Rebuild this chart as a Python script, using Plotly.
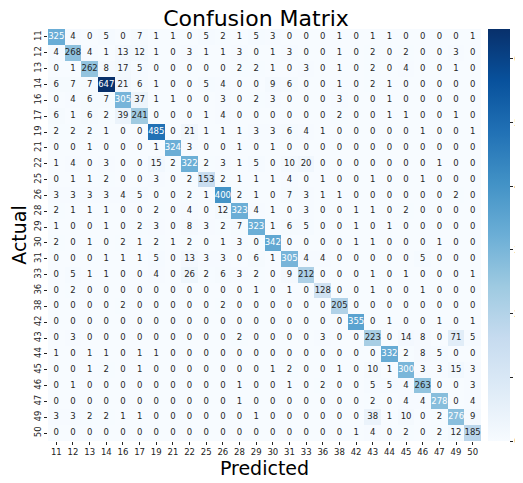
import plotly.graph_objects as go

labels = ["11", "12", "13", "14", "16", "17", "19", "21", "22", "25", "26", "28", "29",
          "30", "31", "33", "36", "38", "42", "43", "44", "45", "46", "47", "49", "50"]

row_11 = [325, 4, 0, 5, 0, 7, 1, 1, 0, 5, 2, 1, 5, 3, 0, 0, 0, 1, 0, 1, 1, 0, 0, 0, 0, 1]
row_12 = [4, 268, 4, 1, 13, 12, 1, 0, 3, 1, 1, 3, 0, 1, 3, 0, 0, 1, 0, 2, 0, 2, 0, 0, 3, 0]
row_13 = [0, 1, 262, 8, 17, 5, 0, 0, 0, 0, 0, 2, 2, 1, 0, 3, 0, 1, 0, 2, 0, 4, 0, 0, 1, 0]
row_14 = [6, 7, 7, 647, 21, 6, 1, 0, 0, 5, 4, 0, 0, 9, 6, 0, 0, 1, 0, 2, 1, 0, 0, 0, 0, 0]
row_16 = [0, 4, 6, 7, 305, 37, 1, 1, 0, 0, 3, 0, 2, 3, 0, 0, 0, 3, 0, 0, 1, 0, 0, 0, 0, 0]
row_17 = [6, 1, 6, 2, 39, 241, 0, 0, 0, 1, 4, 0, 0, 0, 0, 0, 0, 2, 0, 0, 1, 1, 0, 0, 1, 0]
row_19 = [2, 2, 2, 1, 0, 0, 485, 0, 21, 1, 1, 1, 3, 3, 6, 4, 1, 0, 0, 0, 0, 0, 1, 0, 0, 1]
row_21 = [0, 0, 1, 0, 0, 0, 1, 324, 3, 0, 0, 1, 0, 1, 0, 0, 0, 0, 0, 0, 0, 0, 0, 0, 0, 0]
row_22 = [1, 4, 0, 3, 0, 0, 15, 2, 322, 2, 3, 1, 5, 0, 10, 20, 0, 0, 0, 0, 0, 0, 0, 1, 0, 0]
row_25 = [0, 1, 1, 2, 0, 0, 3, 0, 2, 153, 2, 1, 1, 1, 4, 0, 1, 0, 0, 1, 0, 0, 1, 0, 0, 0]
row_26 = [3, 3, 3, 3, 4, 5, 0, 0, 2, 1, 400, 2, 1, 0, 7, 3, 1, 1, 0, 0, 0, 0, 0, 0, 2, 0]
row_28 = [2, 1, 1, 1, 0, 0, 2, 0, 4, 0, 12, 323, 4, 1, 0, 3, 0, 0, 1, 1, 0, 2, 0, 0, 0, 0]
row_29 = [1, 0, 0, 1, 0, 2, 3, 0, 8, 3, 2, 7, 323, 1, 6, 5, 0, 0, 1, 0, 1, 0, 0, 0, 0, 0]
row_30 = [2, 0, 1, 0, 2, 1, 2, 1, 2, 0, 1, 3, 0, 342, 0, 0, 0, 0, 1, 1, 0, 0, 0, 1, 0, 0]
row_31 = [0, 0, 0, 1, 1, 1, 5, 0, 13, 3, 3, 0, 6, 1, 305, 4, 4, 0, 0, 0, 0, 0, 5, 0, 0, 0]
row_33 = [0, 5, 1, 1, 0, 0, 4, 0, 26, 2, 6, 3, 2, 0, 9, 212, 0, 0, 0, 1, 0, 1, 0, 0, 0, 1]
row_36 = [0, 2, 0, 0, 0, 0, 0, 0, 0, 0, 0, 0, 1, 0, 1, 0, 128, 0, 0, 1, 0, 0, 1, 0, 0, 0]
row_38 = [0, 0, 0, 0, 2, 0, 0, 0, 0, 0, 2, 0, 0, 0, 0, 0, 0, 205, 0, 0, 0, 0, 0, 0, 0, 0]
row_42 = [0, 0, 0, 0, 0, 0, 0, 0, 0, 0, 0, 0, 0, 0, 0, 0, 0, 0, 355, 0, 1, 0, 0, 1, 0, 1]
row_43 = [0, 3, 0, 0, 0, 0, 0, 0, 0, 0, 0, 2, 0, 0, 0, 0, 3, 0, 0, 223, 0, 14, 8, 0, 71, 5]
row_44 = [1, 0, 1, 1, 0, 1, 1, 0, 0, 0, 0, 0, 0, 0, 0, 0, 0, 0, 0, 0, 332, 2, 8, 5, 0, 0]
row_45 = [0, 0, 1, 2, 0, 1, 0, 0, 0, 0, 0, 0, 0, 1, 2, 0, 0, 1, 0, 10, 1, 300, 3, 3, 15, 3]
row_46 = [0, 1, 0, 0, 0, 0, 0, 0, 0, 0, 0, 1, 0, 0, 1, 0, 2, 0, 0, 5, 5, 4, 263, 0, 0, 3]
row_47 = [0, 0, 0, 0, 0, 0, 0, 0, 0, 0, 0, 1, 0, 0, 0, 0, 0, 0, 0, 2, 0, 4, 4, 278, 0, 4]
row_49 = [3, 3, 2, 2, 1, 1, 0, 0, 0, 0, 0, 0, 1, 0, 0, 0, 0, 0, 0, 38, 1, 10, 0, 2, 276, 9]
row_50 = [0, 0, 0, 0, 0, 0, 0, 0, 0, 0, 0, 0, 0, 0, 0, 0, 0, 0, 1, 4, 0, 2, 0, 2, 12, 185]

matrix = [row_11, row_12, row_13, row_14, row_16, row_17, row_19, row_21, row_22,
          row_25, row_26, row_28, row_29, row_30, row_31, row_33, row_36, row_38,
          row_42, row_43, row_44, row_45, row_46, row_47, row_49, row_50]

blues = ["#f7fbff", "#deebf7", "#c6dbef", "#9ecae1", "#6baed6",
         "#4292c6", "#2171b5", "#08519c", "#08306b"]
colorscale = [[i / (len(blues) - 1), c] for i, c in enumerate(blues)]
zmax = max(max(r) for r in matrix)
n = len(labels)

fig = go.Figure()
fig.add_trace(go.Heatmap(
    z=matrix, x=labels, y=labels, colorscale=colorscale, zmin=0, zmax=zmax,
    hoverinfo="skip",
    colorbar=dict(
        x=1.016, xanchor="left", xref="paper", xpad=0, ypad=0,
        thickness=22, len=1.0,
        y=0.5, yanchor="middle", outlinewidth=0,
        tickvals=[0, 100, 200, 300, 400, 500, 600],
        ticks="outside", ticklen=3, tickcolor="#222",
        ticklabelposition="outside", ticklabeloverflow="allow",
        tickfont=dict(family="DejaVu Sans", size=9, color="#222"),
    ),
))

tx, ty, tt, tc = [], [], [], []
for i, r in enumerate(matrix):
    for j, v in enumerate(r):
        tx.append(labels[j])
        ty.append(labels[i])
        tt.append(str(v))
        tc.append("white" if v >= 270 else "#262626")

fig.add_trace(go.Scatter(
    x=tx, y=ty, text=tt, mode="text", hoverinfo="skip", showlegend=False,
    textfont=dict(family="DejaVu Sans", size=8.5, color=tc),
))

fig.update_layout(
    width=515, height=475,
    margin=dict(l=40, r=42, t=21, b=42, autoexpand=False),
    paper_bgcolor="white", plot_bgcolor="white",
    title=dict(text="Confusion Matrix", x=248 / 515, xref="container", y=1 - 10 / 475,
               yref="container", yanchor="middle", xanchor="center",
               font=dict(family="DejaVu Sans", size=22, color="black")),
    xaxis=dict(type="category", showgrid=False, zeroline=False,
               range=[-0.5, n - 0.5], autorange=False,
               ticks="outside", ticklen=3, tickcolor="#222",
               tickfont=dict(family="DejaVu Sans", size=8.5, color="#222"),
               title=dict(text="Predicted", standoff=4,
                          font=dict(family="DejaVu Sans", size=19, color="black"))),
    yaxis=dict(type="category", showgrid=False, zeroline=False,
               range=[n - 0.5, -0.5], autorange=False,
               ticks="outside", ticklen=3, tickcolor="#222", tickangle=-90,
               tickfont=dict(family="DejaVu Sans", size=8.5, color="#222"),
               title=dict(text="Actual", standoff=4,
                          font=dict(family="DejaVu Sans", size=19, color="black"))),
)

fig.write_html("out.html")
